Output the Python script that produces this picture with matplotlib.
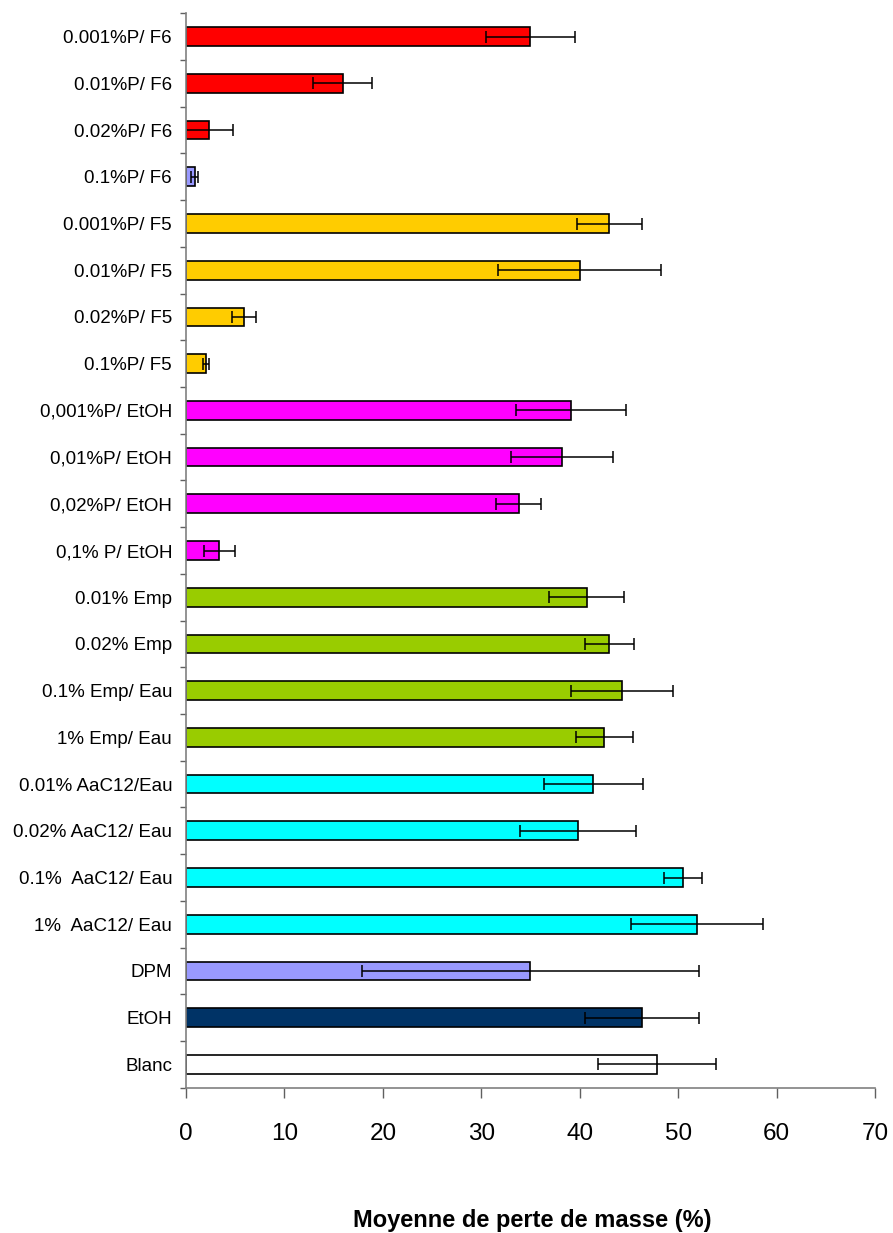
import matplotlib.pyplot as plt
import numpy as np

# categories from top to bottom
labels = ['0.001%P/ F6', '0.01%P/ F6', '0.02%P/ F6', '0.1%P/ F6',
          '0.001%P/ F5', '0.01%P/ F5', '0.02%P/ F5', '0.1%P/ F5',
          '0,001%P/ EtOH', '0,01%P/ EtOH', '0,02%P/ EtOH', '0,1% P/ EtOH',
          '0.01% Emp', '0.02% Emp', '0.1% Emp/ Eau', '1% Emp/ Eau',
          '0.01% AaC12/Eau', '0.02% AaC12/ Eau', '0.1%  AaC12/ Eau', '1%  AaC12/ Eau',
          'DPM', 'EtOH', 'Blanc']
moyenne = [35.0, 15.9, 2.35, 0.88,
           43.0, 40.0, 5.9, 2.0,
           39.1, 38.2, 33.8, 3.4,
           40.7, 43.0, 44.3, 42.5,
           41.4, 39.8, 50.5, 51.95,
           35.0, 46.3, 47.85]
erreur = [4.55, 3.0, 2.4, 0.37,
          3.3, 8.3, 1.24, 0.3,
          5.6, 5.2, 2.3, 1.6,
          3.8, 2.5, 5.2, 2.9,
          5.0, 5.9, 1.95, 6.7,
          17.15, 5.8, 6.0]
couleurs = ['#FF0000'] * 3 + ['#9999FF'] + ['#FFCC00'] * 4 + ['#FF00FF'] * 4 + \
           ['#99CC00'] * 4 + ['#00FFFF'] * 4 + ['#9999FF', '#003366', '#FFFFFF']

plt.rcParams['font.family'] = ['Liberation Sans', 'DejaVu Sans']

fig = plt.figure(figsize=(8.93, 12.33), dpi=100)
ax = fig.add_axes([0.2083, 0.1178, 0.7715, 0.8714])

y = np.arange(len(labels))
ax.barh(y, moyenne, height=0.4, color=couleurs, edgecolor='black', linewidth=1.2,
        xerr=erreur, error_kw=dict(ecolor='black', elinewidth=1.1, capsize=4, capthick=1.1),
        zorder=2)

ax.set_xlim(0, 70)
ax.set_ylim(len(labels) - 0.5, -0.5)
ax.set_xticks(range(0, 71, 10))
ax.set_yticks(y)
ax.set_yticklabels(labels, fontsize=13.5)
ax.set_yticks(np.arange(len(labels) + 1) - 0.5, minor=True)

for s in ['top', 'right']:
    ax.spines[s].set_visible(False)
for s in ['left', 'bottom']:
    ax.spines[s].set_color('#808080')
    ax.spines[s].set_linewidth(1.2)

ax.tick_params(axis='y', which='major', length=0, pad=10)
ax.tick_params(axis='y', which='minor', length=4.5, width=1.0, color='#606060', direction='out')
ax.tick_params(axis='x', which='major', length=7.5, width=1.0, color='#606060',
               direction='out', labelsize=17.5, pad=18)

fig.text(0.5955, 0.0049, 'Moyenne de perte de masse (%)', ha='center', va='baseline',
         fontsize=17, fontweight='bold')

fig.savefig('out.png', dpi=100)
